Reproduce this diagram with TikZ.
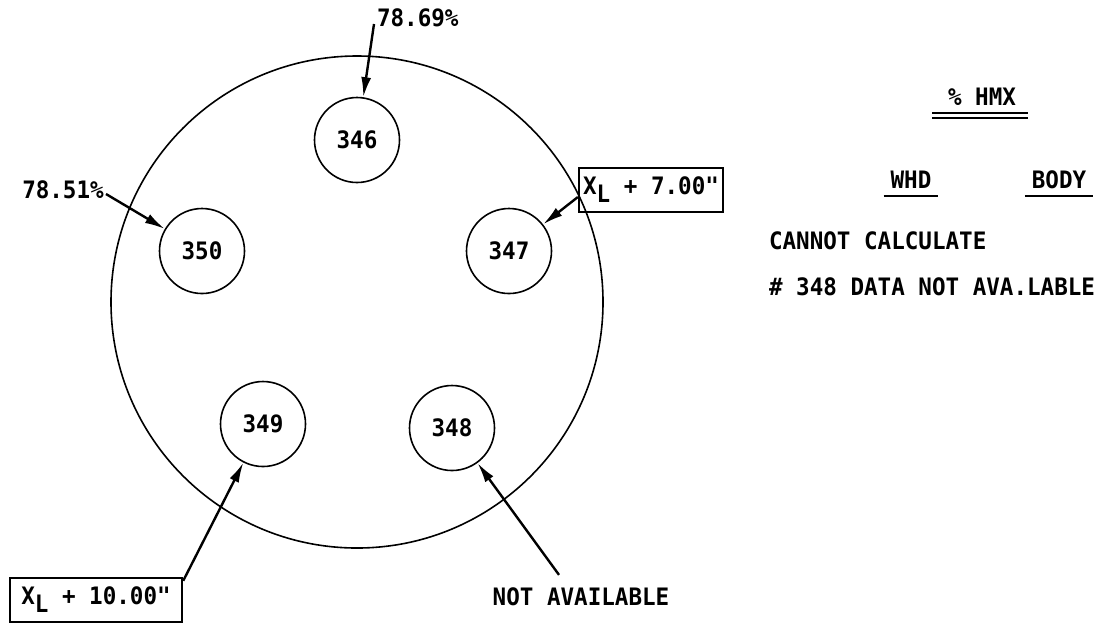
\documentclass[tikz,border=0pt]{standalone}
\usepackage{fontspec}
\newfontfamily\lettering{DejaVu Sans Mono Bold}[FakeStretch=0.94]
\usetikzlibrary{arrows.meta,positioning}

\begin{document}
\begin{tikzpicture}[x=0.5pt,y=-0.5pt,
  every node/.style={font=\lettering\fontsize{12}{14}\selectfont},
  hole/.style={draw,circle,line width=0.8pt,minimum size=42.5pt,inner sep=0pt},
  ptr/.style={-{Latex[length=10pt,width=5pt]},line width=1.2pt},
  tag/.style={draw,line width=1.2pt,inner xsep=2pt,minimum height=22pt}]
\useasboundingbox (0,0) rectangle (1106,623);
\tikzset{under/.style={line width=0.9pt}}
% charge disk and sample holes
\node[draw,circle,line width=0.8pt,minimum size=246pt,inner sep=0pt] (disk) at (357,302) {};
\node[hole] (c346) at (357,140) {346};
\node[hole] (c350) at (202,251) {350};
\node[hole] (c347) at (509,251) {347};
\node[hole] (c349) at (263,424) {349};
\node[hole] (c348) at (452,428) {348};
% labels
\node[anchor=west] (p346) at (370,18) {78.69\%};
\node (p350) at (63,190) {78.51\%};
\node[tag,minimum width=58pt] (b347) at (651,190) {X\raisebox{-0.6ex}{L} + 7.00"};
\node[tag,minimum width=86pt] (b349) at (96,600) {X\raisebox{-0.6ex}{L} + 10.00"};
\node (na) at (581,597) {NOT AVAILABLE};
\coordinate (t346) at (374,24);
\coordinate (t350) at (106,194);
\draw[ptr] (t346) -- (c346);
\draw[ptr] (t350) -- (c350);
\draw[ptr] ([yshift=-3.5pt]b347.west) -- (c347);
\draw[ptr] ([yshift=-2pt]b349.north east) -- (c349);
\draw[ptr] (na.north) ++(-22,-6) coordinate (tna) (tna) -- (c348);
% legend
\node (hmx) at (982,97) {\% HMX};
\node (whd) at (911,180) {WHD};
\node (body) at (1059,180) {BODY};
\node[anchor=west] (calc) at (762,241) {CANNOT CALCULATE};
\node[anchor=west] (nodata) at (762,287) {\# 348 DATA NOT AVA.LABLE};
\draw[under] (932,113) -- (1028,113) (932,118) -- (1028,118);
\draw[under] (whd.south west) -- (whd.south east);
\draw[under] (body.south west) -- (body.south east);
\end{tikzpicture}
\end{document}
